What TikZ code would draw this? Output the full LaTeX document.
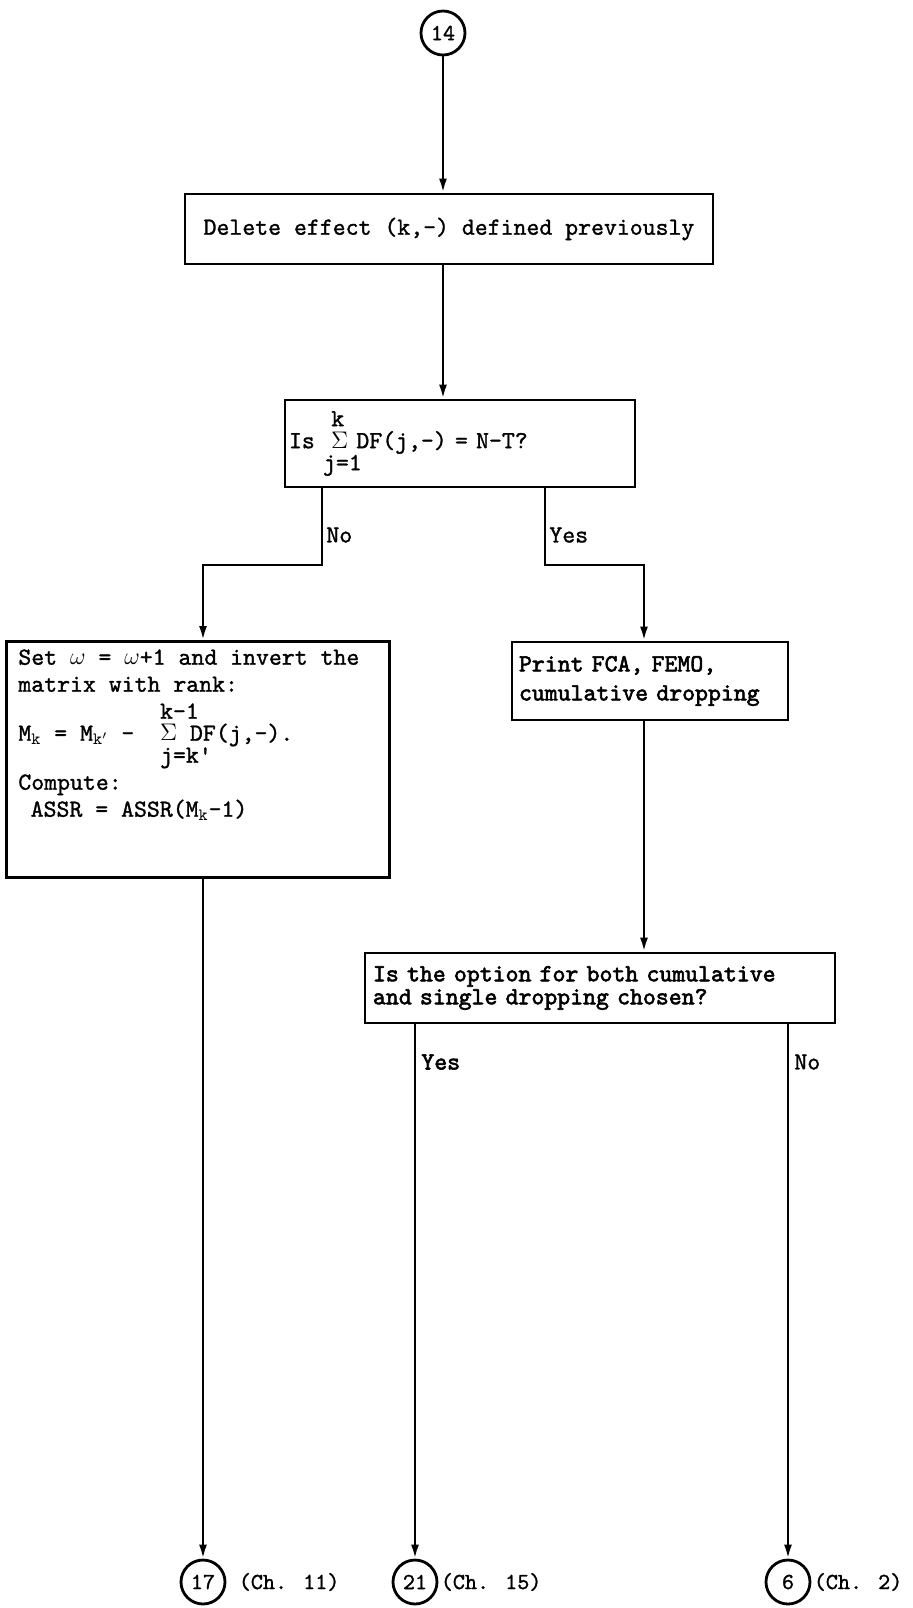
\documentclass[tikz,border=0pt]{standalone}
\usepackage{fontspec}
\newfontfamily\ttdark{lmmono10-regular.otf}[FakeBold=1.2]
\newfontfamily\ttheavy{lmmono10-regular.otf}[FakeBold=2.4]
\usetikzlibrary{arrows.meta,positioning}

\begin{document}
\begin{tikzpicture}[x=0.5pt,y=-0.5pt,
    box/.style={draw,line width=1.4pt,inner sep=0pt,font=\ttdark\fontsize{12.3}{13.5}\selectfont},
    flow/.style={line width=1.2pt,-{Latex[length=7pt,width=4pt]}},
    conn/.style={draw,line width=1.4pt,circle,minimum size=22pt,inner sep=0pt,font=\ttdark\fontsize{11.5}{12}\selectfont},
    chap/.style={inner sep=0pt,font=\ttdark\fontsize{11.5}{12}\selectfont},
    ans/.style={inner sep=1pt,anchor=west,font=\ttdark\fontsize{12.3}{14}\selectfont}]
    \useasboundingbox (0,0) rectangle (912,1608);

    \node[conn] (c14) at (443,33) {14};
    \node[box,minimum width=264pt,minimum height=35pt] (delete) at (449,229) {Delete effect (k,-) defined previously};
    \node[box,minimum width=175pt,minimum height=43.5pt,align=left,text width=171pt,inner xsep=2pt] (sumtest) at (460,443.5)
        {\phantom{Is~~}k\\[-2.5pt]Is~~$\Sigma$ DF(j,-) = N-T?\\[-2.5pt]\phantom{Is~}j=1};
    \node[box,anchor=north west,inner xsep=6pt,inner ysep=0pt] (setw) at (5,640)
        {\parbox[c][118pt][t]{179.5pt}{\vspace*{4pt}%
        Set $\omega$ = $\omega$+1 and invert the\\
        matrix with rank:\\
        \phantom{M$_\mathtt{k}$ = M$_{\mathtt{k}'}$ -~~}k-1\\[-2.5pt]
        M$_\mathtt{k}$ = M$_{\mathtt{k}'}$ -~~$\Sigma$ DF(j,-).\\[-2.5pt]
        \phantom{M$_\mathtt{k}$ = M$_{\mathtt{k}'}$ -~~}j=k'\\[0pt]
        Compute:\\
        \hspace*{0.5em}ASSR = ASSR(M$_\mathtt{k}$-1)}};
    \node[box,minimum width=138pt,minimum height=39pt,align=left,text width=131pt,inner xsep=3.5pt] (printfca) at (650,681)
        {\ttheavy Print FCA, FEMO,\\[1pt]cumulative dropping};
    \node[box,minimum width=235pt,minimum height=35pt,align=left,text width=227pt,inner xsep=4pt] (option) at (600,988)
        {\ttheavy Is the option for both cumulative\\[-2pt]and single dropping chosen?};

    \node[conn] (c17) at (203,1582) {17};
    \node[conn] (c21) at (415,1582) {21};
    \node[conn] (c6) at (788,1582) {6};
    \node[chap,right=6pt of c17] (ch11) {(Ch. 11)};
    \node[chap,right=1pt of c21] (ch15) {(Ch. 15)};
    \node[chap,right=1pt of c6] (ch2) {(Ch. 2)};

    \coordinate (noturn) at (322,565);
    \coordinate (yesturn) at (545,565);
    \coordinate (fcaline) at (644,700);

    \draw[flow] (c14) -- (c14 |- delete.north);
    \draw[flow] (delete.south -| c14) -- (sumtest.north -| c14);
    \draw[flow] (sumtest.south -| noturn) -- (noturn) -| (setw.north -| c17);
    \draw[flow] (sumtest.south -| yesturn) -- (yesturn) -| (printfca.north -| fcaline);
    \draw[flow] (printfca.south -| fcaline) -- (option.north -| fcaline);
    \draw[flow] (setw.south -| c17) -- (c17);
    \draw[flow] (option.south -| c21) -- (c21);
    \draw[flow] (option.south -| c6) -- (c6);

    \node[ans] (no1) at (324,535) {No};
    \node[ans] (yes1) at (547,535) {Yes};
    \node[ans] (yes2) at (419,1062) {\ttheavy Yes};
    \node[ans] (no2) at (792,1062) {No};
\end{tikzpicture}
\end{document}
